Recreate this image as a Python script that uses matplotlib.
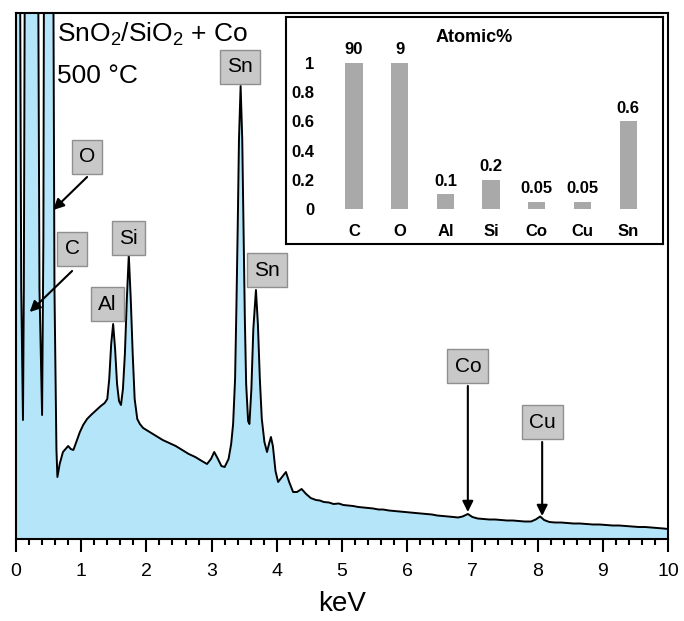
import matplotlib
matplotlib.use("Agg")
import matplotlib.pyplot as plt
from matplotlib.ticker import MultipleLocator

plt.rcParams['font.family'] = ['Liberation Sans', 'DejaVu Sans']
plt.rcParams['mathtext.default'] = 'regular'

# ---- EDS spectrum (keV, counts in arbitrary units) ----
energy = [0.00, 0.05, 0.08, 0.107, 0.12, 0.15, 0.20, 0.26, 0.32, 0.36, 0.40, 0.42,
          0.46, 0.52, 0.56, 0.59, 0.62, 0.635, 0.67, 0.72, 0.76, 0.80, 0.84, 0.88,
          0.93, 0.98, 1.03, 1.09, 1.15, 1.20, 1.25, 1.30, 1.36, 1.40, 1.43, 1.46,
          1.49, 1.52, 1.55, 1.58, 1.61, 1.64, 1.67, 1.70, 1.73, 1.76, 1.79, 1.82,
          1.86, 1.90, 1.95, 2.05, 2.15, 2.25, 2.35, 2.45, 2.55, 2.65, 2.75, 2.85,
          2.93, 2.99, 3.04, 3.09, 3.15, 3.20, 3.26, 3.30, 3.33, 3.36, 3.38, 3.40,
          3.42, 3.445, 3.47, 3.49, 3.51, 3.53, 3.56, 3.58, 3.61, 3.64, 3.68, 3.71,
          3.74, 3.77, 3.81, 3.85, 3.88, 3.91, 3.94, 3.98, 4.02, 4.08, 4.14, 4.19,
          4.25, 4.31, 4.38, 4.45, 4.52, 4.60, 4.66, 4.72, 4.80, 4.87, 4.95, 5.02,
          5.10, 5.17, 5.25, 5.33, 5.40, 5.48, 5.56, 5.63, 5.72, 5.80, 5.88, 5.96,
          6.05, 6.13, 6.21, 6.30, 6.38, 6.46, 6.55, 6.63, 6.71, 6.78, 6.85, 6.93,
          7.00, 7.08, 7.17, 7.26, 7.35, 7.44, 7.53, 7.62, 7.71, 7.80, 7.90, 7.97,
          8.04, 8.10, 8.18, 8.27, 8.36, 8.45, 8.55, 8.65, 8.75, 8.85, 8.95, 9.05,
          9.15, 9.25, 9.35, 9.45, 9.55, 9.65, 9.75, 9.85, 9.93, 10.0]
counts = [1600, 800, 250, 119, 250, 900, 2500, 3000, 900, 250, 124, 300,
          1500, 2500, 800, 250, 90, 62, 75, 87, 90, 93, 90, 89,
          98, 107, 114, 120, 124, 127, 130, 133, 136, 140, 160, 195,
          215, 190, 155, 138, 134, 150, 185, 240, 284, 240, 185, 140,
          120, 115, 111, 107, 103, 99, 96, 93, 89, 85, 82, 78,
          75, 80, 87, 81, 73, 72, 80, 95, 115, 160, 230, 310,
          400, 453, 400, 310, 220, 155, 118, 115, 150, 210, 249, 215,
          160, 120, 97, 87, 95, 102, 93, 68, 57, 62, 67, 57,
          47, 47, 50, 45, 41, 39, 38.5, 37, 36.5, 35, 35.5, 34,
          33.5, 33, 32, 31.5, 31, 30.5, 29.5, 29.5, 28.5, 28, 27.5, 27,
          26.5, 26, 25.5, 25, 24.5, 23.5, 23, 22.5, 22, 21.5, 22.5, 25,
          22, 20.5, 20, 19.5, 19.5, 19, 18.5, 18.5, 18, 17.5, 17.5, 19.5,
          22.5, 19, 17, 16.5, 16.5, 16, 15.5, 15.5, 15, 14.5, 14.5, 14,
          13.5, 13.5, 13, 12.5, 12, 12, 11.5, 11, 10.5, 10]

x_ticks = [0, 1, 2, 3, 4, 5, 6, 7, 8, 9, 10]

# ---- Inset: atomic % ----
elements = ['C', 'O', 'Al', 'Si', 'Co', 'Cu', 'Sn']
bar_heights = [1, 1, 0.1, 0.2, 0.05, 0.05, 0.6]
bar_labels = ['90', '9', '0.1', '0.2', '0.05', '0.05', '0.6']
inset_yticks = [0, 0.2, 0.4, 0.6, 0.8, 1]
inset_yticklabels = ['0', '0.2', '0.4', '0.6', '0.8', '1']

W, H = 684, 621
fig = plt.figure(figsize=(W / 100, H / 100), dpi=100)

ax = fig.add_axes([16 / W, (H - 539) / H, 652 / W, (539 - 13) / H])
ax.fill_between(energy, 0, counts, color='#b5e5f9', lw=0, zorder=1)
ax.plot(energy, counts, color='black', lw=1.4, zorder=2)
ax.set_xlim(0, 10)
ax.set_ylim(0, 526)
ax.set_xticks(x_ticks)
ax.xaxis.set_minor_locator(MultipleLocator(0.2))
ax.set_yticks([])
ax.tick_params(axis='x', which='major', direction='out', length=9, width=1.5,
               labelsize=14, pad=8)
ax.tick_params(axis='x', which='minor', direction='out', length=4, width=1.5)
for s in ax.spines.values():
    s.set_linewidth(1.5)
ax.set_xlabel('keV', fontsize=20, labelpad=8)

ax.text(0.063, 0.960, 'SnO$_2$/SiO$_2$ + Co', transform=ax.transAxes,
        fontsize=19, ha='left', va='center', zorder=6)
ax.text(0.063, 0.880, '500 °C', transform=ax.transAxes,
        fontsize=19, ha='left', va='center', zorder=6)

box = dict(boxstyle='square,pad=0.34', fc='#c8c8c8', ec='#8f8f8f', lw=1)
labels = [('Sn', 3.44, 472), ('Sn', 3.85, 269), ('Al', 1.40, 235),
          ('Si', 1.73, 301), ('O', 1.09, 382), ('C', 0.86, 290),
          ('Co', 6.93, 173), ('Cu', 8.07, 117)]
for t, xx, yy in labels:
    ax.text(xx, yy, t, fontsize=15, ha='center', va='center', bbox=box, zorder=5)

arrows = [((1.09, 362), (0.57, 329)), ((0.86, 268), (0.21, 227)),
          ((6.93, 153), (6.93, 27)), ((8.07, 97), (8.07, 23))]
for (x0, y0), (x1, y1) in arrows:
    ax.annotate('', xy=(x1, y1), xytext=(x0, y0),
                arrowprops=dict(arrowstyle='-|>', color='black', lw=1.5,
                                mutation_scale=16, shrinkA=0, shrinkB=0),
                zorder=4)

# inset frame
frame = fig.add_axes([286 / W, (H - 244) / H, 377 / W, 227 / H])
frame.set_xticks([])
frame.set_yticks([])
frame.set_facecolor('white')
for s in frame.spines.values():
    s.set_linewidth(1.5)

bx = fig.add_axes([326.6 / W, (H - 209) / H, 329 / W, 146 / H])
bx.set_facecolor('none')
pos = list(range(len(elements)))
bars = bx.bar(pos, bar_heights, width=0.38, color='#a9a9a9')
for b, lab in zip(bars, bar_labels):
    bx.annotate(lab, (b.get_x() + b.get_width() / 2, b.get_height()),
                xytext=(0, 4), textcoords='offset points', ha='center',
                va='bottom', fontsize=12, fontweight='bold')
bx.set_xlim(-0.6, 6.6)
bx.set_ylim(0, 1)
bx.set_xticks(pos)
bx.set_xticklabels(elements, fontsize=12, fontweight='bold')
bx.set_yticks(inset_yticks)
bx.set_yticklabels(inset_yticklabels, fontsize=12, fontweight='bold')
bx.tick_params(length=0, pad=9)
bx.tick_params(axis='x', pad=11)
for s in bx.spines.values():
    s.set_visible(False)
fig.text(474 / W, 1 - 38 / H, 'Atomic%', fontsize=13, fontweight='bold',
         ha='center', va='center')

fig.savefig('out.png', dpi=100)
